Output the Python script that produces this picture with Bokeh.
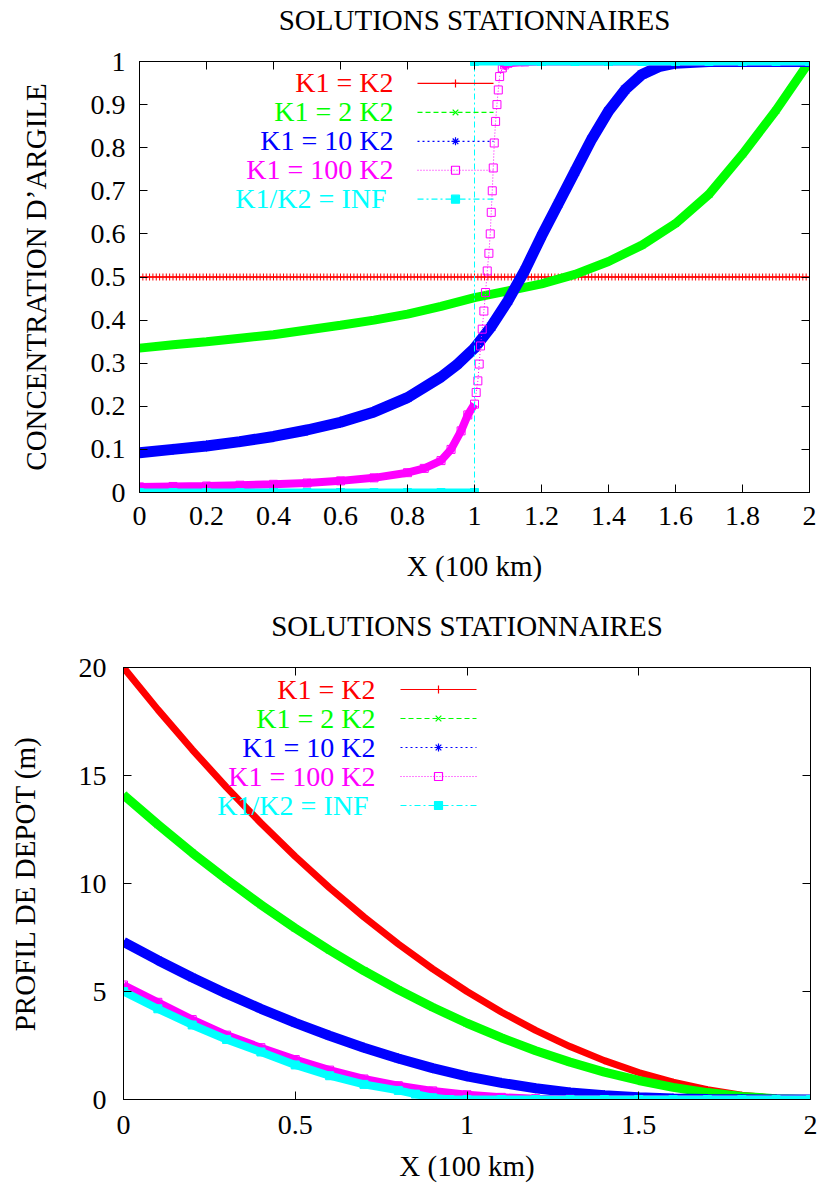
from bokeh.plotting import figure
from bokeh.layouts import column
from bokeh.models import (Range1d, LinearAxis, FixedTicker, CustomJSTickFormatter, Label)
from bokeh.embed import file_html
from bokeh.resources import INLINE

FONT = "Liberation Serif"

# ---------------- texts ----------------
TITLE = "SOLUTIONS STATIONNAIRES"
X_LABEL = "X (100 km)"
CONC_Y_LABEL = "CONCENTRATION D\u2019ARGILE"
DEPOT_Y_LABEL = "PROFIL DE DEPOT (m)"
SERIES_LABELS = ["K1 = K2", "K1 = 2 K2", "K1 = 10 K2", "K1 = 100 K2", "K1/K2 =  INF"]
SERIES_COLORS = ["#ff0000", "#00ff00", "#0000ff", "#ff00ff", "#00ffff"]
SERIES_MARKERS = ["cross", "x", "asterisk", "square", "square"]
SERIES_FILLS = [None, None, None, None, "#00ffff"]
SERIES_DASHES = ["solid", "5 3", "2 3", "1 2", "6 3 2 3"]

# ---------------- ticks ----------------
CONC_XTICKS = [0, 0.2, 0.4, 0.6, 0.8, 1, 1.2, 1.4, 1.6, 1.8, 2]
CONC_YTICKS = [0, 0.1, 0.2, 0.3, 0.4, 0.5, 0.6, 0.7, 0.8, 0.9, 1]
DEPOT_XTICKS = [0, 0.5, 1, 1.5, 2]
DEPOT_YTICKS = [0, 5, 10, 15, 20]

# ---------------- top chart data (concentration) ----------------
CONC_RED_X = [round(0.01 * i, 2) for i in range(201)]
CONC_RED_Y = [0.5] * len(CONC_RED_X)

CONC_GREEN_X = [0.0, 0.1, 0.2, 0.3, 0.4, 0.5, 0.6, 0.7, 0.8, 0.9, 1.0,
                1.1, 1.2, 1.3, 1.4, 1.5, 1.6, 1.7, 1.8, 1.9, 2.0]
CONC_GREEN_Y = [0.335, 0.343, 0.350, 0.358, 0.366, 0.377, 0.388, 0.400, 0.414, 0.432, 0.452,
                0.468, 0.484, 0.506, 0.536, 0.574, 0.624, 0.692, 0.785, 0.887, 1.0]

CONC_BLUE_X = [0.0, 0.1, 0.2, 0.3, 0.4, 0.5, 0.6, 0.7, 0.8, 0.9, 0.95, 1.0, 1.05, 1.1,
               1.15, 1.2, 1.25, 1.3, 1.35, 1.4, 1.45, 1.5, 1.55, 1.6, 1.7, 1.8, 1.9, 2.0]
CONC_BLUE_Y = [0.092, 0.100, 0.108, 0.118, 0.130, 0.145, 0.163, 0.187, 0.220, 0.268, 0.298,
               0.335, 0.385, 0.445, 0.515, 0.595, 0.670, 0.745, 0.820, 0.885, 0.935, 0.970,
               0.988, 0.996, 1.0, 1.0, 1.0, 1.0]

CONC_MAG_X = [0.0, 0.1, 0.2, 0.3, 0.4, 0.5, 0.6, 0.7, 0.8, 0.85, 0.9, 0.93, 0.96, 0.98, 1.0,
              1.005, 1.010, 1.014, 1.018, 1.023, 1.028, 1.033, 1.038, 1.043, 1.047, 1.050,
              1.053, 1.056, 1.059, 1.063, 1.067, 1.071, 1.075, 1.083, 1.09, 1.1, 1.15,
              1.2, 1.3, 1.4, 1.5, 1.6, 1.7, 1.8, 1.9, 2.0]
CONC_MAG_Y = [0.013, 0.014, 0.015, 0.017, 0.019, 0.022, 0.027, 0.034, 0.046, 0.056, 0.074,
              0.100, 0.143, 0.180, 0.205,
              0.232, 0.259, 0.298, 0.340, 0.379, 0.421, 0.464, 0.514, 0.555, 0.600, 0.650,
              0.700, 0.753, 0.811, 0.861, 0.900, 0.934, 0.965, 0.985, 0.992, 0.996, 0.999,
              1.0, 1.0, 1.0, 1.0, 1.0, 1.0, 1.0, 1.0, 1.0]

CONC_CYAN_X = [0.0, 0.1, 0.2, 0.3, 0.4, 0.5, 0.6, 0.7, 0.8, 0.9, 1.0,
               1.0, 1.1, 1.2, 1.3, 1.4, 1.5, 1.6, 1.7, 1.8, 1.9, 2.0]
CONC_CYAN_Y = [0, 0, 0, 0, 0, 0, 0, 0, 0, 0, 0,
               1, 1, 1, 1, 1, 1, 1, 1, 1, 1, 1]

# ---------------- bottom chart data (deposit profile) ----------------
DEPOT_X = [0.0, 0.1, 0.2, 0.3, 0.4, 0.5, 0.6, 0.7, 0.8, 0.9, 1.0,
           1.1, 1.2, 1.3, 1.4, 1.5, 1.6, 1.7, 1.8, 1.9, 2.0]
DEPOT_RED = [20.0, 18.05, 16.2, 14.45, 12.8, 11.25, 9.8, 8.45, 7.2, 6.05, 5.0,
             4.05, 3.2, 2.45, 1.8, 1.25, 0.8, 0.45, 0.2, 0.05, 0.0]
DEPOT_GREEN = [14.1, 12.73, 11.42, 10.19, 9.02, 7.93, 6.91, 5.96, 5.08, 4.27, 3.53,
               2.86, 2.26, 1.73, 1.27, 0.88, 0.56, 0.32, 0.14, 0.04, 0.0]
DEPOT_BLUE = [7.3, 6.45, 5.65, 4.9, 4.2, 3.55, 2.95, 2.4, 1.9, 1.45, 1.07,
              0.77, 0.52, 0.33, 0.2, 0.11, 0.05, 0.02, 0.01, 0.0, 0.0]
DEPOT_MAG = [5.3, 4.5, 3.7, 2.98, 2.4, 1.85, 1.36, 0.95, 0.64, 0.4, 0.22,
             0.1, 0.04, 0.01, 0.0, 0.0, 0.0, 0.0, 0.0, 0.0, 0.0]
DEPOT_CYAN_X = [0.0, 0.1, 0.2, 0.3, 0.4, 0.5, 0.6, 0.7, 0.8, 0.85, 0.9, 0.95, 1.0,
                1.1, 1.2, 1.3, 1.4, 1.5, 1.6, 1.7, 1.8, 1.9, 2.0]
DEPOT_CYAN = [5.0, 4.2, 3.45, 2.78, 2.2, 1.6, 1.1, 0.7, 0.42, 0.25, 0.08, 0.0, 0.0,
              0.0, 0.0, 0.0, 0.0, 0.0, 0.0, 0.0, 0.0, 0.0, 0.0]

# ---------------- layout constants ----------------
TICK_FS = "28px"
LABEL_FS = "29px"
LEGEND_FS = "28px"
FRAME_H = 432
LEGEND_ROW0 = 22          # px from frame top to first legend row
LEGEND_PITCH = 29
SAMPLE_W = 76


def make_fig(height, left, right, top, bottom, xr, yr):
    p = figure(width=822, height=height, x_range=Range1d(*xr), y_range=Range1d(*yr),
               output_backend="svg", toolbar_location=None, title=None,
               min_border_left=left, min_border_right=right,
               min_border_top=top, min_border_bottom=bottom)
    p.frame_align = False
    p.grid.visible = False
    p.outline_line_color = "black"
    p.outline_line_width = 1
    p.background_fill_color = "white"
    p.border_fill_color = "white"
    return p, 822 - left - right


def style_axes(p, xticks, yticks, xlabel, ylabel, xl_standoff, yl_standoff, xs, ys,
               title_standoff):
    fmt = CustomJSTickFormatter(code="return String(tick);")
    for ax, ticks, so, lso, lab in ((p.xaxis[0], xticks, xs, xl_standoff, xlabel),
                                   (p.yaxis[0], yticks, ys, yl_standoff, ylabel)):
        ax.ticker = FixedTicker(ticks=ticks)
        ax.formatter = fmt
        ax.major_tick_in = 8
        ax.major_tick_out = 0
        ax.minor_tick_line_color = None
        ax.axis_line_color = "black"
        ax.major_tick_line_color = "black"
        ax.major_label_text_font = FONT
        ax.major_label_text_font_size = TICK_FS
        ax.major_label_text_color = "black"
        ax.major_label_standoff = so
        ax.axis_label = lab
        ax.axis_label_text_font = FONT
        ax.axis_label_text_font_size = LABEL_FS
        ax.axis_label_text_font_style = "normal"
        ax.axis_label_text_color = "black"
        ax.axis_label_standoff = lso
    blank = CustomJSTickFormatter(code="return '';")
    for ticks, side in ((xticks, "above"), (yticks, "right")):
        ax = LinearAxis(ticker=FixedTicker(ticks=ticks), formatter=blank,
                        major_tick_in=8, major_tick_out=0, minor_tick_line_color=None,
                        major_label_standoff=0, major_label_text_font_size="1px",
                        axis_line_color="black", major_tick_line_color="black")
        if side == "above":
            # the chart title sits over the top edge, centred on the frame
            ax.axis_label = TITLE
            ax.axis_label_text_font = FONT
            ax.axis_label_text_font_size = LABEL_FS
            ax.axis_label_text_font_style = "normal"
            ax.axis_label_text_color = "black"
            ax.axis_label_text_line_height = 1.0
            ax.axis_label_standoff = title_standoff
        p.add_layout(ax, side)


def draw_series(p, x, y, i, band, msize, band_parts=None):
    color = SERIES_COLORS[i]
    if band > 0:
        parts = band_parts if band_parts is not None else [(0, len(x))]
        for a, b in parts:
            p.line(x[a:b], y[a:b], line_color=color, line_width=band)
    p.line(x, y, line_color=color, line_width=1, line_dash=SERIES_DASHES[i])
    p.scatter(x, y, marker=SERIES_MARKERS[i], size=msize, line_color=color,
              line_width=1, fill_color=SERIES_FILLS[i])


def add_key(p, fw, xr, yr, gx, text_right):
    """gnuplot-style key: right-aligned text, then a line sample with one marker."""
    def to_x(sx):
        return xr[0] + sx / fw * (xr[1] - xr[0])

    def to_y(sy_from_top):
        return yr[1] - sy_from_top / FRAME_H * (yr[1] - yr[0])

    for i in range(5):
        row = LEGEND_ROW0 + LEGEND_PITCH * i
        yy = to_y(row)
        p.line([to_x(gx), to_x(gx + SAMPLE_W)], [yy, yy], line_color=SERIES_COLORS[i],
               line_width=1.2, line_dash=SERIES_DASHES[i])
        p.scatter([to_x(gx + SAMPLE_W / 2)], [yy], marker=SERIES_MARKERS[i], size=8,
                  line_color=SERIES_COLORS[i], line_width=1.2, fill_color=SERIES_FILLS[i])
        p.add_layout(Label(x=text_right, y=FRAME_H - row,
                           x_units="screen", y_units="screen",
                           text=SERIES_LABELS[i], text_align="right",
                           text_baseline="middle", text_color=SERIES_COLORS[i],
                           text_font=FONT, text_font_size=LEGEND_FS))


# ---------------- top chart ----------------
XR1, YR1 = (0, 2), (0, 1)
p1, fw1 = make_fig(595, 139, 13, 60, 103, XR1, YR1)
style_axes(p1, CONC_XTICKS, CONC_YTICKS, X_LABEL, CONC_Y_LABEL, 22, 36, 14, 14, 26)
draw_series(p1, CONC_RED_X, CONC_RED_Y, 0, 0, 7)
draw_series(p1, CONC_GREEN_X, CONC_GREEN_Y, 1, 9, 9)
draw_series(p1, CONC_BLUE_X, CONC_BLUE_Y, 2, 11, 11)
mag_lo = CONC_MAG_X.index(1.0) + 1
mag_hi = CONC_MAG_X.index(1.083)
draw_series(p1, CONC_MAG_X, CONC_MAG_Y, 3, 8, 8,
            band_parts=[(0, mag_lo), (mag_hi, len(CONC_MAG_X))])
cy_split = CONC_CYAN_Y.index(1)
draw_series(p1, CONC_CYAN_X, CONC_CYAN_Y, 4, 8, 8,
            band_parts=[(0, cy_split), (cy_split, len(CONC_CYAN_X))])
add_key(p1, fw1, XR1, YR1, 278, 254)

# ---------------- bottom chart ----------------
XR2, YR2 = (0, 2), (0, 20)
p2, fw2 = make_fig(594, 123, 12, 72, 90, XR2, YR2)
style_axes(p2, DEPOT_XTICKS, DEPOT_YTICKS, X_LABEL, DEPOT_Y_LABEL, 13, 35, 16, 17, 26)
draw_series(p2, DEPOT_X, DEPOT_RED, 0, 7, 7)
draw_series(p2, DEPOT_X, DEPOT_GREEN, 1, 9, 9)
draw_series(p2, DEPOT_X, DEPOT_BLUE, 2, 10, 10)
draw_series(p2, DEPOT_X, DEPOT_MAG, 3, 8, 8)
draw_series(p2, DEPOT_CYAN_X, DEPOT_CYAN, 4, 8, 8)
add_key(p2, fw2, XR2, YR2, 277, 252)

layout = column(p1, p2, spacing=0)
open("out.html", "w").write(file_html(layout, INLINE))
